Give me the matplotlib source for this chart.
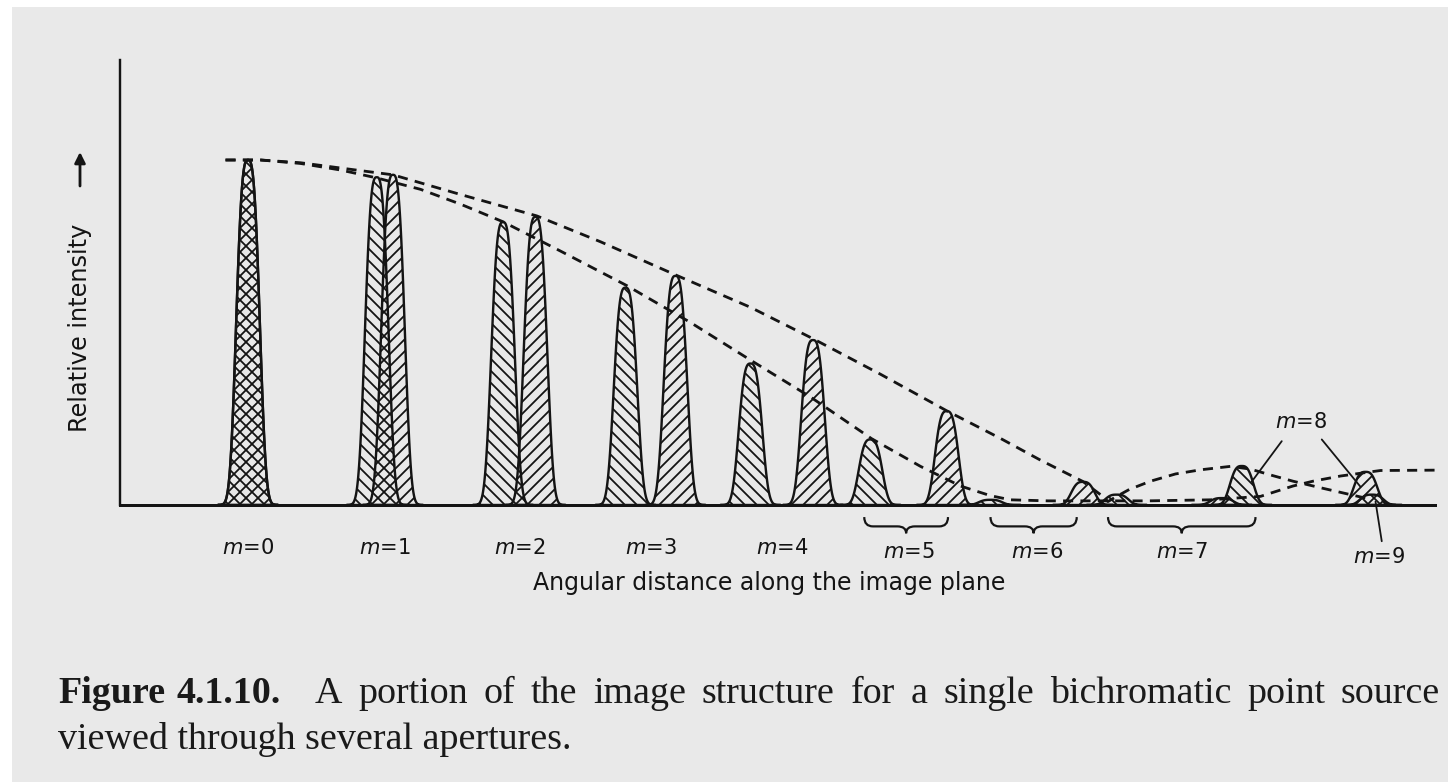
import numpy as np
import matplotlib
matplotlib.use('Agg')
import matplotlib.pyplot as plt
import matplotlib.patches as patches
from matplotlib.path import Path

# two wavelengths: order positions (angular units) and peak intensities
x_short = [0.0, 1.03, 2.04, 3.02, 4.02, 4.98, 5.94, 6.95, 7.95, 8.99]
h_short = [1.0, 0.95, 0.82, 0.63, 0.41, 0.19, 0.015, 0.03, 0.113, 0.03]
x_long = [0.0, 1.16, 2.30, 3.42, 4.52, 5.59, 6.68, 7.79, 8.94]
h_long = [1.0, 0.957, 0.835, 0.664, 0.478, 0.272, 0.067, 0.02, 0.096]

# single-aperture envelopes (dashed)
env_short_x = [-0.18, 0.10, 0.42, 0.74, 1.03, 1.38, 1.70, 2.04, 2.50, 3.03, 3.54,
               4.02, 4.50, 4.99, 5.38, 5.70, 5.94, 6.10, 6.40, 7.20, 7.70, 8.10,
               8.36, 8.52, 8.74, 8.92, 9.06, 9.50]
env_short_y = [1.0, 1.0, 0.99, 0.971, 0.948, 0.915, 0.872, 0.821, 0.736, 0.636, 0.529,
               0.42, 0.313, 0.192, 0.112, 0.055, 0.027, 0.015, 0.012, 0.012, 0.015, 0.025,
               0.055, 0.069, 0.084, 0.093, 0.10, 0.101]
env_long_x = [-0.18, 0.10, 0.42, 0.82, 1.16, 1.70, 2.31, 2.82, 3.42, 4.02, 4.52,
              5.06, 5.59, 6.02, 6.34, 6.68, 6.82, 6.88, 6.95, 7.05, 7.22, 7.42,
              7.62, 7.86, 8.02, 8.20, 8.36, 8.58, 8.82, 8.94]
env_long_y = [1.0, 1.0, 0.992, 0.973, 0.957, 0.90, 0.838, 0.763, 0.667, 0.573, 0.482,
              0.379, 0.273, 0.193, 0.130, 0.068, 0.03, 0.01, 0.025, 0.045, 0.069, 0.09,
              0.102, 0.112, 0.104, 0.085, 0.069, 0.05, 0.03, 0.02]

orders = ['0', '1', '2', '3', '4', '5', '6', '7']
brace_spans = [(4.93, 5.60), (5.94, 6.63), (6.88, 8.06)]

W, H, DPI = 1448, 782, 144
ink = '#141414'
plt.rcParams['hatch.linewidth'] = 0.9
plt.rcParams['mathtext.fontset'] = 'dejavusans'
plt.rcParams['font.family'] = 'DejaVu Sans'

fig = plt.figure(figsize=(W / DPI, H / DPI), dpi=DPI, facecolor='white')
fig.patches.append(patches.Rectangle((12 / W, 0), 1, 1 - 7 / H, transform=fig.transFigure,
                                     facecolor='#e9e9e9', edgecolor='none', zorder=-10))

ax = fig.add_axes([120 / W, (H - 505) / H, 1315 / W, 445 / H])
ax.set_facecolor('none')
ax.set_xlim(-1.024, 9.496)
ax.set_ylim(0, 445 / 345)
for s in ['top', 'right']:
    ax.spines[s].set_visible(False)
ax.spines['left'].set_linewidth(1.2)
ax.spines['bottom'].set_linewidth(1.5)
ax.spines['left'].set_color(ink)
ax.spines['bottom'].set_color(ink)
ax.set_xticks([])
ax.set_yticks([])

# peak profile: flattened top, steep sides
s_w = 0.11


def draw_peak(x0, h, hatch):
    xs = np.linspace(x0 - 2.2 * s_w, x0 + 2.2 * s_w, 161)
    ys = h * np.exp(-np.abs((xs - x0) / s_w) ** 3)
    ax.fill_between(xs, 0, ys, facecolor='none', edgecolor=ink, hatch=hatch,
                    linewidth=1.2, zorder=2)


for x0, h in zip(x_short, h_short):
    draw_peak(x0, h, '\\\\\\\\')
for x0, h in zip(x_long, h_long):
    draw_peak(x0, h, '////')

ax.plot(env_short_x, env_short_y, color=ink, lw=1.4, dashes=(3.6, 2.6), zorder=3, clip_on=False)
ax.plot(env_long_x, env_long_y, color=ink, lw=1.4, dashes=(3.6, 2.6), zorder=3, clip_on=False)


def brace(x0, x1, y_top=-0.035, y_mid=-0.062, y_tip=-0.082, r=0.07):
    xc = (x0 + x1) / 2
    verts = [(x0, y_top), (x0, y_mid), (x0 + r, y_mid),
             (xc - r, y_mid), (xc, y_mid), (xc, y_tip),
             (xc, y_mid), (xc + r, y_mid),
             (x1 - r, y_mid), (x1, y_mid), (x1, y_top)]
    codes = [Path.MOVETO, Path.CURVE3, Path.CURVE3,
             Path.LINETO, Path.CURVE3, Path.CURVE3,
             Path.CURVE3, Path.CURVE3,
             Path.LINETO, Path.CURVE3, Path.CURVE3]
    ax.add_patch(patches.PathPatch(Path(verts, codes), fill=False, edgecolor=ink,
                                   lw=1.1, clip_on=False))


for x0, x1 in brace_spans:
    brace(x0, x1)

# order labels under each pair
for i, m in enumerate(orders):
    if i < 5:
        xm, ym = (x_short[i] + x_long[i]) / 2, -0.125
    elif i < 7:
        xm, ym = (x_short[i] + x_long[i]) / 2, -0.137
    else:
        xm, ym = sum(brace_spans[2]) / 2, -0.137
    ax.text(xm, ym, r'$m$=' + m, ha='center', va='center', fontsize=10.5, color=ink,
            clip_on=False)

ax.text(8.42, 0.24, r'$m$=8', ha='center', va='center', fontsize=10.5, color=ink)
ax.text(9.05, -0.15, r'$m$=9', ha='center', va='center', fontsize=10.5, color=ink,
        clip_on=False)
leader = dict(arrowstyle='-', lw=0.9, color=ink, shrinkA=0, shrinkB=0)
ax.annotate('', xy=(x_short[8] + 0.08, 0.6 * h_short[8]), xytext=(8.27, 0.185),
            arrowprops=leader)
ax.annotate('', xy=(x_long[8] - 0.04, 0.55 * h_long[8]), xytext=(8.59, 0.19),
            arrowprops=leader)
ax.annotate('', xy=(x_short[9] + 0.03, 0.01), xytext=(9.07, -0.105),
            arrowprops=leader, annotation_clip=False)

fig.text(769 / W, 1 - 583 / H, 'Angular distance along the image plane', ha='center',
         va='center', fontsize=11.8, color=ink)
fig.text(80 / W, 1 - 328 / H, 'Relative intensity', rotation=90, ha='center',
         va='center', fontsize=12, color=ink)
fig.add_artist(patches.FancyArrowPatch((80 / W, 1 - 190 / H), (80 / W, 1 - 148 / H),
                                       transform=fig.transFigure, arrowstyle='-|>',
                                       mutation_scale=11, lw=1.4, color=ink))

# caption, first line justified to the full width
renderer = fig.canvas.get_renderer()
serif = 'Liberation Serif'
cap_size = 19
words = [('Figure', 'bold'), ('4.1.10.', 'bold')] + \
    [(w, 'normal') for w in 'A portion of the image structure for a single bichromatic point source'.split()]
x_left, x_right = 58, 1440
items = []
for w, weight in words:
    t = fig.text(0, (H - 703) / H, w, family=serif, weight=weight, fontsize=cap_size,
                 va='baseline', ha='left', color='#1a1a1a')
    items.append(t)
widths = [t.get_window_extent(renderer).width for t in items]
gaps = [1.0] * (len(items) - 1)
gaps[0] = 0.7
gaps[1] = 2.2
unit = (x_right - x_left - sum(widths)) / sum(gaps)
xpos = x_left
for i, t in enumerate(items):
    t.set_x(xpos / W)
    xpos += widths[i] + (gaps[i] * unit if i < len(gaps) else 0)

fig.text(x_left / W, (H - 749) / H, 'viewed through several apertures.', family=serif,
         fontsize=cap_size, va='baseline', ha='left', color='#1a1a1a')

fig.savefig('out.png', dpi=DPI, facecolor=fig.get_facecolor())
